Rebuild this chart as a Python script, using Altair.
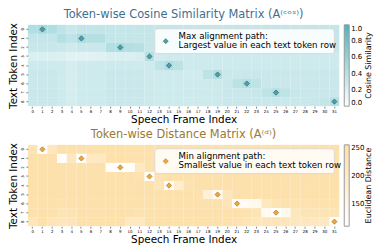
import altair as alt
import pandas as pd

frames = list(range(32))
tokens = list(range(9))

cos_rows = [
    [0.44,0.50,0.44,0.36,0.30,0.34,0.34,0.34,0.33,0.33,0.33,0.33,0.33,0.33,0.33,0.33,0.33,0.33,0.33,0.33,0.33,0.33,0.33,0.33,0.33,0.33,0.33,0.33,0.33,0.33,0.33,0.33],
    [0.33,0.33,0.33,0.42,0.36,0.47,0.43,0.43,0.33,0.33,0.33,0.33,0.33,0.33,0.33,0.33,0.33,0.33,0.33,0.33,0.33,0.33,0.33,0.33,0.33,0.33,0.33,0.33,0.33,0.33,0.33,0.33],
    [0.31,0.31,0.31,0.30,0.27,0.30,0.30,0.30,0.43,0.47,0.43,0.41,0.32,0.32,0.32,0.32,0.32,0.32,0.32,0.32,0.32,0.32,0.32,0.32,0.32,0.32,0.32,0.32,0.32,0.32,0.32,0.32],
    [0.21,0.21,0.21,0.20,0.17,0.17,0.17,0.18,0.21,0.21,0.21,0.23,0.42,0.26,0.27,0.27,0.27,0.27,0.27,0.27,0.27,0.27,0.27,0.27,0.27,0.27,0.27,0.27,0.27,0.27,0.27,0.27],
    [0.28,0.28,0.28,0.27,0.24,0.27,0.27,0.27,0.28,0.28,0.28,0.28,0.28,0.36,0.44,0.38,0.28,0.28,0.28,0.28,0.28,0.28,0.28,0.28,0.28,0.28,0.28,0.28,0.28,0.28,0.28,0.28],
    [0.30,0.30,0.30,0.27,0.24,0.28,0.28,0.28,0.30,0.30,0.30,0.30,0.27,0.27,0.27,0.27,0.26,0.26,0.37,0.43,0.30,0.30,0.30,0.30,0.30,0.30,0.30,0.30,0.30,0.30,0.30,0.30],
    [0.30,0.30,0.30,0.27,0.24,0.28,0.28,0.28,0.30,0.30,0.30,0.30,0.29,0.28,0.28,0.28,0.27,0.27,0.28,0.29,0.30,0.38,0.43,0.37,0.30,0.30,0.30,0.30,0.30,0.30,0.30,0.30],
    [0.30,0.30,0.30,0.27,0.24,0.28,0.28,0.28,0.30,0.30,0.30,0.30,0.29,0.28,0.28,0.28,0.27,0.27,0.28,0.29,0.30,0.30,0.30,0.31,0.36,0.42,0.36,0.31,0.30,0.30,0.30,0.30],
    [0.30,0.30,0.30,0.27,0.24,0.28,0.28,0.28,0.30,0.30,0.30,0.30,0.29,0.28,0.28,0.28,0.27,0.27,0.28,0.29,0.30,0.30,0.30,0.30,0.30,0.30,0.30,0.30,0.30,0.31,0.33,0.41],
]

dist_rows = [
    [232,112,218,248,248,248,248,248,248,248,248,248,248,248,248,248,248,248,248,248,248,248,248,248,248,248,248,248,248,248,248,248],
    [248,248,248,113,218,110,208,214,248,248,248,248,248,248,248,248,248,248,248,248,248,248,248,248,248,248,248,248,248,248,248,248],
    [248,248,248,248,248,248,248,248,118,110,116,215,248,248,248,248,248,248,248,248,248,248,248,248,248,248,248,248,248,248,248,248],
    [248,248,248,248,248,248,248,248,248,248,248,240,112,236,248,248,248,248,248,248,248,248,248,248,248,248,248,248,248,248,248,248],
    [248,248,248,248,248,248,248,248,248,248,248,248,248,230,125,192,240,248,248,248,248,248,248,248,248,248,248,248,248,248,248,248],
    [248,248,248,248,248,248,248,248,248,248,248,248,248,248,248,248,248,240,172,132,224,248,248,248,248,248,248,248,248,248,248,248],
    [248,248,248,244,248,248,248,248,248,248,248,248,248,248,248,248,248,248,248,248,226,118,128,142,215,234,244,244,244,244,244,244],
    [246,248,248,234,238,248,248,248,248,248,248,240,248,248,248,248,248,248,248,248,248,248,240,232,132,112,142,220,232,232,232,232],
    [222,248,226,224,226,248,248,248,248,248,214,212,248,248,248,248,248,248,248,248,248,236,228,224,226,228,222,220,218,216,214,115],
]

cos_path = [1, 5, 9, 12, 14, 19, 22, 25, 31]
dist_path = [1, 5, 9, 12, 14, 19, 21, 25, 31]

W, H = 314, 82


def long_df(rows):
    return pd.DataFrame(
        [{"token": i, "frame": j, "v": rows[i][j]} for i in tokens for j in frames]
    )


def panel(rows, path, title, tcolor, crange, cdomain, cvalues, ctitle, cfmt,
          mfill, mstroke, line1, line2, ctitle_x):
    xenc = alt.X(
        "frame:O",
        scale=alt.Scale(domain=frames, paddingInner=0, paddingOuter=0),
        axis=alt.Axis(title="Speech Frame Index", labelAngle=0, labelFontSize=4,
                      tickSize=2, domain=False, labelPadding=1, titleFontSize=10.5,
                      titleFontWeight="normal", titlePadding=1, titleColor="black",
                      labelColor="black"),
    )
    yenc = alt.Y(
        "token:O",
        scale=alt.Scale(domain=tokens, paddingInner=0, paddingOuter=0),
        axis=alt.Axis(title="Text Token Index", labelAngle=270, labelFontSize=4,
                      tickSize=2, domain=False, labelPadding=1, titleFontSize=10.5,
                      titleFontWeight="normal", titlePadding=2, titleColor="black",
                      labelColor="black", labelAlign="center", labelBaseline="bottom"),
    )
    heat = alt.Chart(long_df(rows)).mark_rect().encode(
        x=xenc,
        y=yenc,
        color=alt.Color(
            "v:Q",
            scale=alt.Scale(domain=cdomain, range=crange, interpolate="rgb"),
            legend=alt.Legend(
                title=None, values=cvalues, format=cfmt, orient="right",
                gradientLength=H, gradientThickness=5, gradientStrokeColor="#999999",
                gradientStrokeWidth=1, labelFontSize=7, labelColor="black",
                offset=5, labelOffset=2,
            ),
        ),
    )
    pts = alt.Chart(pd.DataFrame({"token": tokens, "frame": path})).mark_point(
        shape="diamond", filled=True, size=28, fill=mfill, stroke=mstroke,
        strokeWidth=0.7, opacity=1,
    ).encode(x="frame:O", y="token:O")

    one = pd.DataFrame({"a": [0]})
    box = alt.Chart(one).mark_rect(
        fill="white", fillOpacity=0.85, stroke="#d4d4d4", strokeWidth=0.8,
        cornerRadius=3,
    ).encode(x=alt.value(128), x2=alt.value(309), y=alt.value(4), y2=alt.value(29))
    lpt = alt.Chart(one).mark_point(
        shape="diamond", filled=True, size=28, fill=mfill, stroke=mstroke,
        strokeWidth=0.5, opacity=1,
    ).encode(x=alt.value(139), y=alt.value(16.5))
    ltxt = alt.Chart(pd.DataFrame({"t": [line1 + "\n" + line2]})).mark_text(
        align="left", baseline="top", lineBreak="\n", fontSize=8.7, lineHeight=9,
        color="black", font="DejaVu Sans",
    ).encode(x=alt.value(152), y=alt.value(7.5), text="t:N")
    ctxt = alt.Chart(pd.DataFrame({"t": [ctitle]})).mark_text(
        align="center", baseline="middle", angle=270, fontSize=8,
        color="black", font="DejaVu Sans",
    ).encode(x=alt.value(ctitle_x), y=alt.value(H / 2), text="t:N")

    return alt.layer(heat, pts, box, lpt, ltxt, ctxt).properties(
        width=W, height=H,
        title=alt.TitleParams(title, color=tcolor, fontSize=11.5,
                              fontWeight="normal", anchor="middle", offset=2,
                              font="DejaVu Sans"),
    )


top = panel(cos_rows, cos_path, "Token-wise Cosine Similarity Matrix (A⁽ᶜᵒˢ⁾)",
            "#3f6f8e", ["#ffffff", "#4eb3bc"], [0, 1],
            [0, 0.2, 0.4, 0.6, 0.8, 1.0], "Cosine Similarity", ".1f",
            "#4f9fa8", "#2c6a72", "Max alignment path:",
            "Largest value in each text token row", W + 30)
bottom = panel(dist_rows, dist_path, "Token-wise Distance Matrix (A⁽ᵈ⁾)",
               "#9a7a32", ["#ffffff", "#fddfa8"], [110, 255],
               [150, 200, 250], "Euclidean Distance", "d",
               "#f2a63a", "#a5782e", "Min alignment path:",
               "Smallest value in each text token row", W + 30)

chart = alt.vconcat(top, bottom, spacing=4).resolve_scale(color="independent").configure(
    font="DejaVu Sans", padding=0, background="white"
).configure_view(stroke=None)

chart.save("out.html", embed_options={"renderer": "svg", "actions": False})
